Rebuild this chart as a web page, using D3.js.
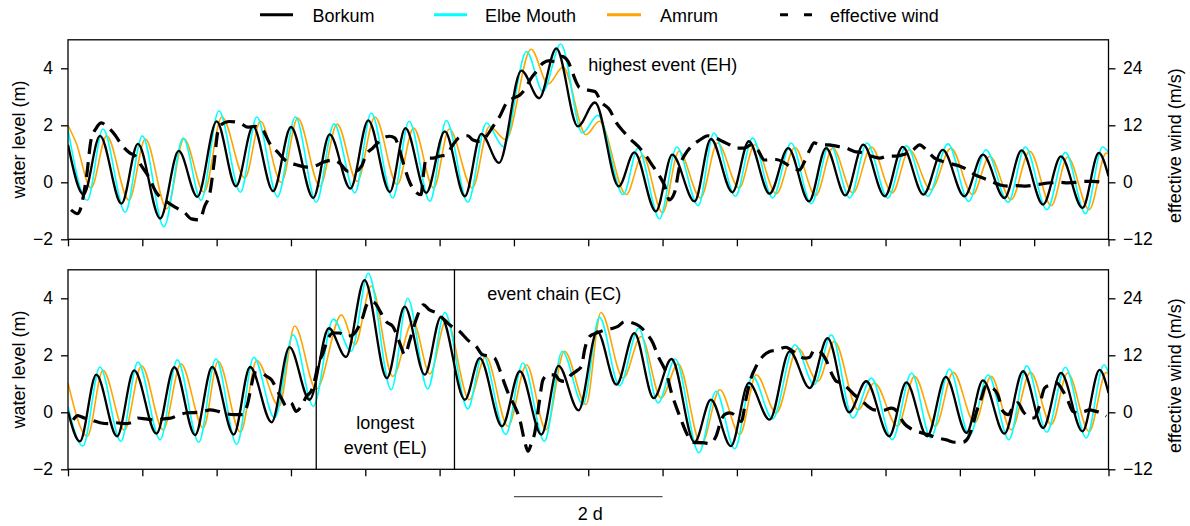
<!DOCTYPE html>
<html><head><meta charset="utf-8">
<script src="https://cdn.jsdelivr.net/npm/d3@7/dist/d3.min.js"></script>
<style>
body{margin:0;background:#fff}
svg text{font-family:"Liberation Sans",Arial,Helvetica,sans-serif;fill:#000}
</style>
</head><body>
<svg id="c" width="1190" height="526"></svg>
<script>
// ---------- data (time in days, water level in m, wind in m/s) ----------
const dayTicks = d3.range(0, 15);
const levelTicks = [-2, 0, 2, 4];
const windTicks = [-12, 0, 12, 24];
const seriesNames = ["Borkum", "Elbe Mouth", "Amrum", "effective wind"];
const seriesColors = ["#000000", "#00FFFF", "#FFA500", "#000000"];

const topBorkum = [[0,1.32],[0.21,-0.43],[0.43,1.63],[0.72,-0.75],[0.94,1.35],[1.24,-1.27],[1.49,1.10],[1.74,-0.51],[2.00,2.14],[2.26,-0.14],[2.49,1.96],[2.76,-0.31],[3.00,1.94],[3.30,-0.55],[3.52,1.68],[3.80,-0.22],[4.04,2.17],[4.33,-0.34],[4.54,1.90],[4.82,-0.37],[5.07,1.79],[5.34,-0.49],[5.56,1.70],[5.80,0.68],[6.10,3.92],[6.34,2.95],[6.57,4.70],[6.86,1.96],[7.09,2.80],[7.41,-0.14],[7.62,1.05],[7.91,-1.02],[8.13,0.97],[8.43,-0.67],[8.65,1.52],[8.94,-0.35],[9.16,1.44],[9.44,-0.40],[9.69,1.20],[9.97,-0.67],[10.20,1.20],[10.46,-0.46],[10.70,1.32],[10.99,-0.49],[11.23,1.24],[11.51,-0.43],[11.77,1.14],[12.06,-0.49],[12.31,0.97],[12.60,-0.55],[12.83,1.12],[13.12,-0.78],[13.36,0.91],[13.65,-0.90],[13.87,1.03],[14.0,0.21]];
const topElbe = [[0,1.85],[0.26,-0.63],[0.47,1.87],[0.77,-1.05],[1.00,1.63],[1.29,-1.56],[1.55,1.55],[1.79,-0.63],[2.03,2.51],[2.32,-0.35],[2.54,2.29],[2.82,-0.51],[3.06,2.29],[3.34,-0.70],[3.58,2.05],[3.86,-0.37],[4.08,2.43],[4.37,-0.55],[4.59,2.14],[4.87,-0.67],[5.09,2.17],[5.38,-0.70],[5.63,2.08],[5.86,1.25],[6.17,4.59],[6.39,3.19],[6.63,4.85],[6.92,1.73],[7.13,2.35],[7.47,-0.43],[7.67,1.20],[7.96,-1.28],[8.19,1.24],[8.48,-0.82],[8.69,1.73],[8.98,-0.49],[9.21,1.55],[9.48,-0.55],[9.73,1.38],[10.0,-0.75],[10.25,1.35],[10.52,-0.55],[10.75,1.38],[11.03,-0.55],[11.28,1.28],[11.57,-0.49],[11.84,1.35],[12.12,-0.67],[12.35,1.14],[12.65,-0.70],[12.88,1.24],[13.17,-0.96],[13.42,1.05],[13.69,-1.10],[13.92,1.24],[14.0,1.05]];
const topAmrum = [[0,2.0],[0.11,1.38],[0.31,-0.20],[0.52,1.63],[0.82,-0.63],[1.04,1.52],[1.33,-0.93],[1.56,1.53],[1.83,-0.34],[2.07,2.29],[2.38,0.15],[2.59,2.14],[2.87,0.0],[3.09,2.25],[3.39,-0.14],[3.62,2.04],[3.89,0.03],[4.13,2.29],[4.43,-0.08],[4.65,1.90],[4.92,-0.20],[5.13,1.87],[5.44,-0.20],[5.67,1.96],[5.89,1.50],[6.23,4.67],[6.46,3.45],[6.66,4.04],[6.97,1.67],[7.15,2.14],[7.51,-0.43],[7.73,0.95],[8.0,-1.07],[8.22,1.09],[8.51,-0.55],[8.74,1.38],[9.03,-0.20],[9.24,1.32],[9.53,-0.40],[9.78,1.22],[10.06,-0.47],[10.29,1.20],[10.56,-0.37],[10.81,1.24],[11.09,-0.37],[11.32,1.14],[11.61,-0.26],[11.88,1.20],[12.17,-0.43],[12.40,0.91],[12.69,-0.61],[12.94,1.09],[13.23,-0.82],[13.45,0.89],[13.74,-0.96],[13.97,1.03],[14.0,1.0]];
const topWind = [[0.04,-5.8],[0.13,-6.6],[0.25,1.3],[0.31,8.9],[0.38,11.4],[0.45,12.5],[0.52,11.8],[0.63,10.0],[0.72,7.9],[0.83,6.2],[0.90,5.6],[0.99,3.4],[1.08,1.3],[1.19,-2.2],[1.32,-4.0],[1.46,-5.4],[1.57,-6.4],[1.66,-7.7],[1.77,-7.9],[1.84,-5.0],[1.91,-2.2],[1.97,4.7],[2.02,11.0],[2.06,12.1],[2.17,12.8],[2.31,12.5],[2.42,11.6],[2.51,11.8],[2.62,11.0],[2.71,8.3],[2.83,6.2],[2.94,4.4],[3.07,3.7],[3.21,3.2],[3.32,3.4],[3.43,4.2],[3.57,4.7],[3.65,4.1],[3.77,2.3],[3.86,2.3],[3.95,3.4],[4.01,5.8],[4.10,7.2],[4.24,9.3],[4.33,9.7],[4.40,9.3],[4.44,7.9],[4.51,4.1],[4.60,-0.1],[4.69,-2.2],[4.75,-2.6],[4.78,1.3],[4.82,5.1],[4.91,5.1],[5.0,5.5],[5.09,5.8],[5.18,7.9],[5.27,9.5],[5.38,9.8],[5.45,8.9],[5.54,8.6],[5.63,9.7],[5.72,11.8],[5.81,13.9],[5.90,16.7],[5.99,17.7],[6.08,18.4],[6.14,19.4],[6.23,21.9],[6.30,23.3],[6.39,25.1],[6.48,25.6],[6.55,25.4],[6.64,26.5],[6.73,25.4],[6.79,23.0],[6.88,20.0],[7.0,19.4],[7.09,19.1],[7.17,17.0],[7.29,15.2],[7.38,12.5],[7.49,10.4],[7.58,8.9],[7.67,7.6],[7.78,5.5],[7.87,3.4],[7.96,1.3],[8.03,-0.8],[8.09,-3.7],[8.16,-2.2],[8.23,3.4],[8.30,5.8],[8.39,7.6],[8.50,8.9],[8.61,9.8],[8.72,9.3],[8.81,8.6],[8.90,7.9],[8.99,7.2],[9.10,7.2],[9.19,7.9],[9.28,6.8],[9.37,4.7],[9.46,4.8],[9.53,4.8],[9.64,4.1],[9.75,3.0],[9.84,2.6],[9.91,4.4],[9.98,6.8],[10.04,8.3],[10.13,7.9],[10.22,7.9],[10.34,7.6],[10.47,7.2],[10.58,6.5],[10.70,6.2],[10.81,5.5],[10.92,5.1],[11.03,5.5],[11.14,5.5],[11.23,5.8],[11.37,6.8],[11.46,7.9],[11.55,6.8],[11.66,5.1],[11.77,4.4],[11.88,3.9],[12.0,3.4],[12.11,2.6],[12.20,1.6],[12.31,0.9],[12.42,0.2],[12.53,-0.5],[12.65,-0.8],[12.76,-0.7],[12.89,-0.8],[13.03,-0.5],[13.12,-0.3],[13.23,-0.1],[13.34,0],[13.45,-0.1],[13.57,0],[13.68,0.2],[13.79,0.2],[13.90,0],[13.97,-0.5]];

const botBorkum = [[0,0.03],[0.16,-1.02],[0.38,1.32],[0.66,-0.84],[0.89,1.47],[1.19,-0.75],[1.43,1.58],[1.71,-0.80],[1.94,1.59],[2.23,-0.78],[2.45,1.59],[2.74,-0.35],[2.98,2.29],[3.25,0.44],[3.51,2.95],[3.74,1.94],[3.99,4.64],[4.29,1.20],[4.53,3.71],[4.80,1.32],[5.02,3.36],[5.34,0.44],[5.54,1.90],[5.84,-0.49],[6.08,1.44],[6.37,-0.78],[6.60,1.63],[6.87,0.07],[7.12,2.84],[7.38,0.97],[7.62,2.78],[7.88,0.50],[8.12,1.87],[8.43,-1.05],[8.65,0.44],[8.92,-1.19],[9.16,1.03],[9.44,-0.26],[9.71,2.14],[9.98,0.85],[10.22,2.60],[10.51,0.0],[10.74,1.09],[11.05,-0.84],[11.28,1.05],[11.56,-0.84],[11.81,1.24],[12.09,-0.72],[12.31,1.12],[12.60,-0.75],[12.85,1.44],[13.12,-0.55],[13.36,1.38],[13.65,-0.67],[13.88,1.49],[14.0,0.68]];
const botElbe = [[0,0.2],[0.20,-1.19],[0.43,1.59],[0.71,-1.02],[0.94,1.76],[1.24,-0.96],[1.47,1.84],[1.76,-1.05],[1.99,1.88],[2.27,-1.13],[2.50,1.93],[2.78,-0.20],[3.03,2.72],[3.30,0.21],[3.57,3.27],[3.81,2.14],[4.04,4.88],[4.35,0.79],[4.57,4.00],[4.84,0.82],[5.07,3.50],[5.38,0.12],[5.58,2.05],[5.89,-0.78],[6.12,1.73],[6.41,-1.02],[6.65,2.14],[6.93,0.27],[7.15,3.34],[7.42,0.93],[7.68,2.95],[7.94,0.33],[8.17,1.87],[8.49,-1.42],[8.72,0.74],[8.97,-1.28],[9.21,1.26],[9.48,-0.23],[9.78,2.37],[10.04,0.97],[10.27,2.72],[10.56,-0.20],[10.81,1.20],[11.09,-0.96],[11.35,1.38],[11.61,-0.90],[11.86,1.52],[12.13,-0.82],[12.38,1.32],[12.66,-0.96],[12.90,1.63],[13.17,-0.70],[13.42,1.58],[13.70,-0.90],[13.94,1.67],[14.0,1.4]];
const botAmrum = [[0,1.03],[0.26,-0.84],[0.47,1.47],[0.76,-0.63],[0.99,1.63],[1.28,-0.61],[1.52,1.70],[1.82,-0.55],[2.02,1.79],[2.32,-0.70],[2.54,1.82],[2.84,0.21],[3.05,3.03],[3.34,0.80],[3.68,3.42],[3.86,2.37],[4.08,4.43],[4.37,1.26],[4.64,3.19],[4.87,1.35],[5.09,3.24],[5.40,0.44],[5.62,1.96],[5.92,-0.49],[6.17,1.67],[6.43,-0.61],[6.68,2.14],[6.97,0.27],[7.17,3.50],[7.47,1.20],[7.71,2.66],[7.98,0.50],[8.21,1.70],[8.52,-1.13],[8.77,0.79],[9.04,-0.78],[9.26,1.32],[9.53,-0.02],[9.82,2.25],[10.09,1.09],[10.31,2.49],[10.63,0.09],[10.85,1.03],[11.16,-0.49],[11.39,1.26],[11.67,-0.49],[11.91,1.40],[12.20,-0.37],[12.42,1.26],[12.69,-0.61],[12.95,1.40],[13.23,-0.43],[13.45,1.38],[13.74,-0.67],[13.97,1.40],[14.0,1.35]];
const botWind = [[0.07,-1.6],[0.13,-0.7],[0.22,-1.2],[0.31,-1.6],[0.43,-2.2],[0.54,-2.4],[0.65,-2.2],[0.76,-2.4],[0.85,-2.2],[0.94,-1.2],[1.05,-1.4],[1.17,-1.6],[1.28,-1.4],[1.39,-1.2],[1.50,-0.5],[1.61,-0.1],[1.73,0],[1.82,0.2],[1.91,0.5],[2.02,0.2],[2.13,-0.3],[2.24,-0.5],[2.35,-0.5],[2.42,2.0],[2.47,5.8],[2.51,8.3],[2.60,8.3],[2.67,7.6],[2.74,6.8],[2.80,5.1],[2.87,3.0],[2.94,1.3],[3.00,2.0],[3.07,0.2],[3.14,1.3],[3.21,3.4],[3.27,4.4],[3.32,6.8],[3.36,9.7],[3.43,12.4],[3.50,15.6],[3.57,16.7],[3.65,16.7],[3.74,16.0],[3.83,16.3],[3.90,17.7],[3.97,20.2],[4.01,22.3],[4.06,23.3],[4.13,23.0],[4.19,21.5],[4.28,19.1],[4.37,18.1],[4.48,13.9],[4.53,12.1],[4.60,15.2],[4.69,19.8],[4.78,22.6],[4.87,21.5],[4.96,20.9],[5.04,19.8],[5.16,18.1],[5.27,17.0],[5.38,15.2],[5.49,13.9],[5.58,12.1],[5.67,11.8],[5.74,11.4],[5.81,8.9],[5.87,6.2],[5.94,3.4],[6.01,1.3],[6.08,-1.6],[6.14,-5.8],[6.19,-8.2],[6.23,-6.8],[6.28,-4.3],[6.34,2.0],[6.39,6.8],[6.46,7.9],[6.55,7.9],[6.61,6.8],[6.68,6.5],[6.77,7.9],[6.86,8.9],[6.91,9.7],[6.95,13.1],[7.02,16.0],[7.11,16.7],[7.22,17.3],[7.33,17.7],[7.40,18.1],[7.49,19.1],[7.58,18.9],[7.69,18.1],[7.78,16.7],[7.87,14.6],[7.94,11.8],[8.01,9.7],[8.05,8.3],[8.12,4.1],[8.18,1.3],[8.25,-1.6],[8.32,-4.3],[8.39,-6.1],[8.45,-6.4],[8.54,-6.4],[8.63,-6.6],[8.72,-5.0],[8.79,-1.6],[8.83,-0.5],[8.90,-0.1],[8.99,-0.8],[9.06,-1.9],[9.12,2.6],[9.19,7.2],[9.26,9.7],[9.35,11.8],[9.44,12.8],[9.53,13.1],[9.57,13.3],[9.66,13.7],[9.73,13.1],[9.82,12.1],[9.91,11.4],[9.98,11.6],[10.04,13.1],[10.11,12.8],[10.20,11.0],[10.27,8.3],[10.34,6.5],[10.40,6.2],[10.49,5.1],[10.58,3.7],[10.67,2.6],[10.76,1.3],[10.85,0.5],[10.96,0.4],[11.08,0.9],[11.17,-0.1],[11.23,-1.9],[11.37,-3.7],[11.48,-4.3],[11.57,-4.7],[11.70,-5.4],[11.82,-5.8],[11.93,-6.3],[12.04,-6.3],[12.11,-5.4],[12.17,-2.9],[12.22,-0.1],[12.29,3.0],[12.35,5.5],[12.44,5.1],[12.51,3.7],[12.58,0.2],[12.65,-0.5],[12.71,0.9],[12.78,2.0],[12.85,0.2],[12.91,-0.8],[13.00,-1.2],[13.07,1.3],[13.14,5.1],[13.23,5.8],[13.30,6.2],[13.39,4.4],[13.45,2.6],[13.52,0.2],[13.59,-0.1],[13.68,0.2],[13.74,0.5],[13.83,0.2],[13.90,-0.1],[13.97,-0.8]];

// event boundaries in the lower panel (days)
const eventBounds = [3.34, 5.20];
// scale bar length (days)
const scaleBarDays = [6, 8];

// ---------- drawing ----------
const svg = d3.select("#c");
const x = d3.scaleLinear().domain([0, 14]).range([68, 1108.5]);
const FONT = 18;

const panels = [
  {top: 39.8, bottom: 239.3, series: [topAmrum, topElbe, topBorkum], wind: topWind},
  {top: 269.8, bottom: 469.3, series: [botAmrum, botElbe, botBorkum], wind: botWind}
];
const styleOrder = [2, 1, 0]; // index into seriesColors for Amrum, Elbe, Borkum
const widths = [1.6, 1.6, 2.3];

panels.forEach((p, i) => {
  const y = d3.scaleLinear().domain([-2, 5]).range([p.bottom, p.top]);
  const yw = d3.scaleLinear().domain([-12, 30]).range([p.bottom, p.top]);
  const g = svg.append("g");
  const clipId = "clip" + i;
  svg.append("clipPath").attr("id", clipId).append("rect")
    .attr("x", x(0)).attr("y", p.top).attr("width", x(14) - x(0)).attr("height", p.bottom - p.top);

  const plot = g.append("g").attr("clip-path", `url(#${clipId})`);
  const line = d3.line().x(d => x(d[0])).y(d => y(d[1])).curve(d3.curveMonotoneX);
  const wline = d3.line().x(d => x(d[0])).y(d => yw(d[1])).curve(d3.curveMonotoneX);

  p.series.forEach((s, k) => {
    plot.append("path").datum(s).attr("d", line)
      .attr("fill", "none").attr("stroke", seriesColors[styleOrder[k]])
      .attr("stroke-width", widths[k]).attr("stroke-linejoin", "round");
  });
  plot.append("path").datum(p.wind).attr("d", wline)
    .attr("fill", "none").attr("stroke", "#000").attr("stroke-width", 3.2)
    .attr("stroke-dasharray", "15,8");

  // box
  g.append("rect").attr("x", x(0)).attr("y", p.top)
    .attr("width", x(14) - x(0)).attr("height", p.bottom - p.top)
    .attr("fill", "none").attr("stroke", "#000").attr("stroke-width", 1.3);

  // axes
  const ax = g.append("g").attr("transform", `translate(0,${p.bottom})`)
    .call(d3.axisBottom(x).tickValues(dayTicks).tickSize(7).tickSizeOuter(0).tickFormat(""));
  const al = g.append("g").attr("transform", `translate(${x(0)},0)`)
    .call(d3.axisLeft(y).tickValues(levelTicks).tickSize(7).tickPadding(8).tickSizeOuter(0).tickFormat(d => d < 0 ? "\u2212" + Math.abs(d) : d));
  const ar = g.append("g").attr("transform", `translate(${x(14)},0)`)
    .call(d3.axisRight(yw).tickValues(windTicks).tickSize(7).tickPadding(7.5).tickSizeOuter(0).tickFormat(d => d < 0 ? "\u2212" + Math.abs(d) : d));
  [ax, al, ar].forEach(a => {
    a.select(".domain").remove();
    a.selectAll(".tick line").attr("stroke", "#000").attr("stroke-width", 1.3);
    a.selectAll("text").attr("font-size", 17.5).attr("fill", "#000")
      .attr("font-family", "'Liberation Sans', Arial, sans-serif");
  });

  const cy = (p.top + p.bottom) / 2;
  g.append("text").attr("transform", `translate(25,${cy}) rotate(-90)`)
    .attr("text-anchor", "middle").attr("font-size", FONT).text("water level (m)");
  g.append("text").attr("transform", `translate(1181,${cy + 6}) rotate(-90)`)
    .attr("text-anchor", "middle").attr("font-size", FONT).text("effective wind (m/s)");

  if (i === 0) {
    g.append("text").attr("x", x(7.0)).attr("y", y(3.9)).attr("font-size", FONT)
      .text("highest event (EH)");
  } else {
    eventBounds.forEach(d => {
      g.append("line").attr("x1", x(d)).attr("x2", x(d)).attr("y1", p.top).attr("y2", p.bottom)
        .attr("stroke", "#000").attr("stroke-width", 1.3);
    });
    const mid = (eventBounds[0] + eventBounds[1]) / 2;
    g.append("text").attr("x", x(mid)).attr("y", y(-0.6)).attr("text-anchor", "middle")
      .attr("font-size", FONT).text("longest");
    g.append("text").attr("x", x(mid)).attr("y", y(-1.48)).attr("text-anchor", "middle")
      .attr("font-size", FONT).text("event (EL)");
    g.append("text").attr("x", x(5.64)).attr("y", y(3.93)).attr("font-size", FONT)
      .text("event chain (EC)");
  }
});

// scale bar
svg.append("line").attr("x1", x(scaleBarDays[0])).attr("x2", x(scaleBarDays[1]))
  .attr("y1", 496.7).attr("y2", 496.7).attr("stroke", "#555").attr("stroke-width", 1.2);
svg.append("text").attr("x", (x(scaleBarDays[0]) + x(scaleBarDays[1])) / 2 + 2).attr("y", 520)
  .attr("text-anchor", "middle").attr("font-size", FONT).attr("fill", "#222").text("2 d");

// legend
const legendX = [[260, 293, 312.5], [434, 467, 485], [607, 641, 660], [780, 812, 830]];
const leg = svg.append("g");
seriesNames.forEach((n, k) => {
  const [x0, x1, tx] = legendX[k];
  leg.append("line").attr("x1", x0).attr("x2", x1).attr("y1", 14.7).attr("y2", 14.7)
    .attr("stroke", seriesColors[k]).attr("stroke-width", 3)
    .attr("stroke-dasharray", k === 3 ? "8,16" : null);
  leg.append("text").attr("x", tx).attr("y", 22.3).attr("font-size", FONT).attr("fill", "#222").text(n);
});
</script>
</body></html>
